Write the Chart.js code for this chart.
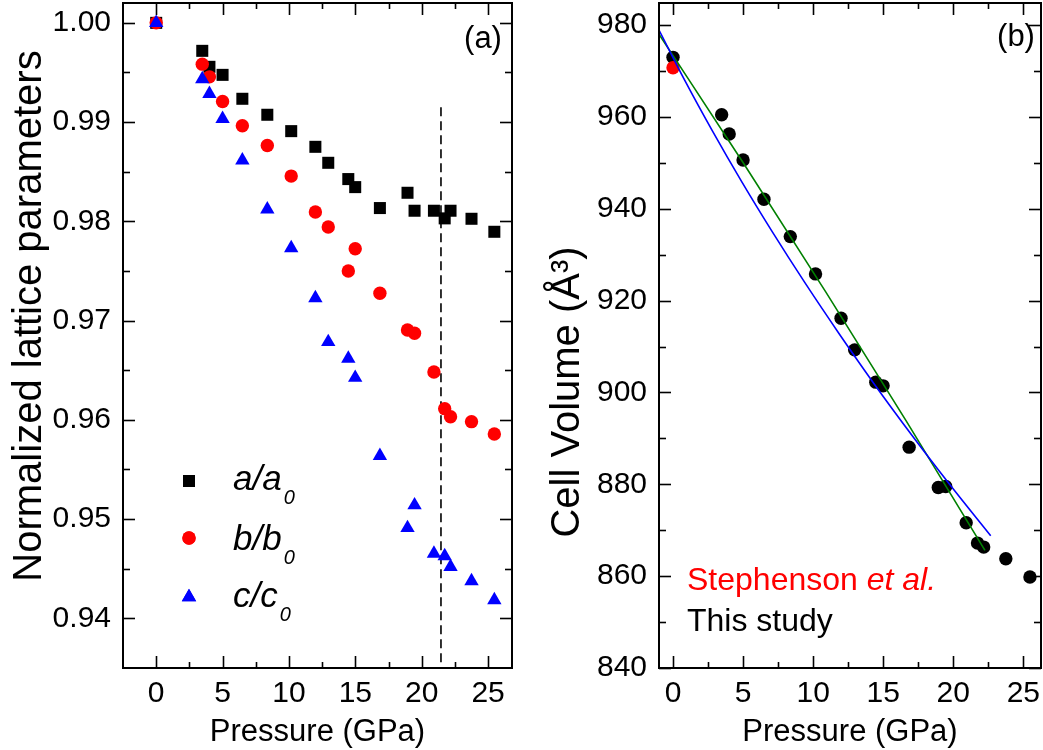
<!DOCTYPE html>
<html>
<head>
<meta charset="utf-8">
<script src="https://cdn.jsdelivr.net/npm/chart.js@4.4.0/dist/chart.umd.min.js"></script>
<style>
  html, body { margin: 0; padding: 0; background: #fff; }
  #wrap { position: relative; width: 1043px; height: 750px; overflow: hidden; }
  .panel { position: absolute; top: 0; height: 750px; }
  #pa { left: 0; width: 540px; }
  #pb { left: 540px; width: 503px; }
</style>
</head>
<body>
<div id="wrap">
  <div class="panel" id="pa"><canvas id="ca" width="540" height="750"></canvas></div>
  <div class="panel" id="pb"><canvas id="cb" width="503" height="750"></canvas></div>
</div>
<script>
// --- data ---
const pressure = [0, 3.47, 4.01, 5.0, 6.49, 8.37, 10.17, 11.99, 12.96, 14.47, 14.99, 16.85, 18.93, 19.46, 20.92, 21.73, 22.17, 23.75, 25.47];
const aRatio = [1.0000, 0.99718, 0.99557, 0.99476, 0.99235, 0.99074, 0.98909, 0.98751, 0.98590, 0.98426, 0.98345, 0.98134, 0.98288, 0.98107, 0.98107, 0.98030, 0.98107, 0.98026, 0.97895];
const bRatio = [1.0000, 0.99584, 0.99456, 0.99208, 0.98963, 0.98765, 0.98456, 0.98094, 0.97943, 0.97500, 0.97724, 0.97275, 0.96905, 0.96872, 0.96482, 0.96113, 0.96032, 0.95982, 0.95858];
const cRatio = [1.0000, 0.99433, 0.99285, 0.99033, 0.98614, 0.98121, 0.97731, 0.97228, 0.96785, 0.96617, 0.96425, 0.95637, 0.94911, 0.95140, 0.94653, 0.94627, 0.94519, 0.94375, 0.94184];
const volume = [972.97, 960.48, 956.28, 950.62, 942.07, 933.93, 925.81, 916.17, 909.27, 902.24, 901.44, 888.09, 879.30, 879.52, 871.62, 867.20, 866.33, 863.79, 859.80];

const stephensonP = [0];
const stephensonV = [970.7];

// fitted curves as drawn
const blueFitP = [-1.0, 0.85, 2.82, 4.9, 7.1, 9.41, 11.83, 14.37, 17.02, 19.79, 22.67];
const blueFitV = [978.9, 967.9, 956.9, 945.9, 934.9, 923.9, 912.9, 901.8, 890.8, 879.8, 868.8];
const greenFitP = [-1.0, 5.03, 10.92, 16.66, 22.26];
const greenFitV = [978.0, 949.9, 921.8, 893.7, 865.6];

// dashed marker in panel (a)
const dashP = [21.45, 21.45];
const dashY = [0.9915, 0.935];

// ticks
const xTicks = [0, 5, 10, 15, 20, 25];
const xMinor = [2.5, 7.5, 12.5, 17.5, 22.5];
const yTicksA = [0.94, 0.95, 0.96, 0.97, 0.98, 0.99, 1.00];
const yMinorA = [0.945, 0.955, 0.965, 0.975, 0.985, 0.995];
const yTicksB = [840, 860, 880, 900, 920, 940, 960, 980];
const yMinorB = [850, 870, 890, 910, 930, 950, 970];

const FONT = '"Liberation Sans", Arial, sans-serif';
const pts = (xs, ys) => xs.map((x, i) => ({ x: x, y: ys[i] }));

// frame + inward tick marks on all four sides
const frameTicks = {
  id: 'frameTicks',
  afterDatasetsDraw(chart, args, o) {
    const { ctx, chartArea: a, scales: { x, y } } = chart;
    ctx.save();
    ctx.strokeStyle = '#000';
    ctx.lineWidth = 1.6;
    const seg = (x1, y1, x2, y2) => { ctx.beginPath(); ctx.moveTo(x1, y1); ctx.lineTo(x2, y2); ctx.stroke(); };
    const doX = (vals, len) => vals.forEach(v => {
      const p = Math.round(x.getPixelForValue(v)) + 0.5;
      seg(p, a.bottom, p, a.bottom - len);
      seg(p, a.top, p, a.top + len);
    });
    const doY = (vals, len) => vals.forEach(v => {
      const p = Math.round(y.getPixelForValue(v)) + 0.5;
      seg(a.left, p, a.left + len, p);
      seg(a.right, p, a.right - len, p);
    });
    doX(o.xMajor, 12); doX(o.xMinor, 6);
    doY(o.yMajor, 12); doY(o.yMinor, 7);
    ctx.lineWidth = 2;
    ctx.strokeRect(a.left, a.top, a.right - a.left, a.bottom - a.top);
    ctx.restore();
  }
};

function vText(ctx, text, x, y, font) {
  ctx.save();
  ctx.translate(x, y);
  ctx.rotate(-Math.PI / 2);
  ctx.font = font;
  ctx.fillStyle = '#000';
  ctx.textAlign = 'center';
  ctx.textBaseline = 'middle';
  ctx.fillText(text, 0, 0);
  ctx.restore();
}

// texts of panel (a): y title, tag, legend
const annoA = {
  id: 'annoA',
  afterDraw(chart) {
    const ctx = chart.ctx;
    vText(ctx, 'Normalized lattice parameters', 30, 316, '40px ' + FONT);
    ctx.save();
    ctx.fillStyle = '#000';
    ctx.font = '31px ' + FONT;
    ctx.textAlign = 'center';
    ctx.textBaseline = 'middle';
    ctx.fillText('(a)', 483, 39);

    const items = [
      { style: 'rect', r: 8.5, color: '#000000', y: 481, main: 'a/a', base: 490 },
      { style: 'circle', r: 6.7, color: '#ff0000', y: 538, main: 'b/b', base: 550 },
      { style: 'triangle', r: 8.3, color: '#0000ff', y: 597, main: 'c/c', base: 607 }
    ];
    items.forEach(it => {
      ctx.fillStyle = it.color;
      Chart.helpers.drawPoint(ctx, { pointStyle: it.style, radius: it.r, rotation: 0, borderWidth: 0 }, 189, it.y);
      ctx.fill();
      ctx.fillStyle = '#000';
      ctx.textAlign = 'left';
      ctx.textBaseline = 'alphabetic';
      ctx.font = 'italic 35px ' + FONT;
      ctx.fillText(it.main, 233, it.base);
      const w = ctx.measureText(it.main).width;
      ctx.font = 'italic 20px ' + FONT;
      ctx.fillText('0', 233 + w + 2, it.base + 14);
    });
    ctx.restore();
  }
};

// texts of panel (b)
const annoB = {
  id: 'annoB',
  afterDraw(chart) {
    const ctx = chart.ctx;
    vText(ctx, 'Cell Volume (\u00C5\u00B3)', 28, 392, '40px ' + FONT);
    ctx.save();
    ctx.fillStyle = '#000';
    ctx.font = '31px ' + FONT;
    ctx.textAlign = 'center';
    ctx.textBaseline = 'middle';
    ctx.fillText('(b)', 476, 37);

    ctx.textAlign = 'left';
    ctx.textBaseline = 'alphabetic';
    ctx.fillStyle = '#ff0000';
    ctx.font = '32px ' + FONT;
    ctx.fillText('Stephenson ', 147, 590);
    const w = ctx.measureText('Stephenson ').width;
    ctx.font = 'italic 32px ' + FONT;
    ctx.fillText('et al.', 147 + w, 590);
    ctx.fillStyle = '#000';
    ctx.font = '32px ' + FONT;
    ctx.fillText('This study', 147, 631);
    ctx.restore();
  }
};

function xScale(min, max) {
  return {
    type: 'linear', position: 'bottom', min: min, max: max,
    grid: { display: false, drawTicks: false },
    border: { display: false },
    afterBuildTicks: s => { s.ticks = xTicks.map(v => ({ value: v })); },
    afterFit: s => { s.height = 82; s.paddingLeft = 0; s.paddingRight = 0; },
    ticks: { color: '#000', font: { family: FONT, size: 30 }, padding: 8, maxRotation: 0 },
    title: { display: true, text: 'Pressure (GPa)', color: '#000', font: { family: FONT, size: 31, lineHeight: 1.1 }, padding: 0 }
  };
}

function yScale(min, max, vals, width, fmt) {
  return {
    type: 'linear', min: min, max: max,
    grid: { display: false, drawTicks: false },
    border: { display: false },
    afterBuildTicks: s => { s.ticks = vals.map(v => ({ value: v })); },
    afterFit: s => { s.width = width; s.paddingTop = 0; s.paddingBottom = 0; },
    ticks: { color: '#000', font: { family: FONT, size: 30 }, padding: 12, callback: fmt }
  };
}

new Chart(document.getElementById('ca'), {
  type: 'scatter',
  data: {
    datasets: [
      { data: pts(pressure, cRatio), pointStyle: 'triangle', pointRadius: 8.3, pointBorderWidth: 0, backgroundColor: '#0000ff', borderColor: '#0000ff' },
      { data: pts(pressure, bRatio), pointStyle: 'circle', pointRadius: 6.7, pointBorderWidth: 0, backgroundColor: '#ff0000', borderColor: '#ff0000' },
      { data: pts(pressure, aRatio), pointStyle: 'rect', pointRadius: 8.5, pointBorderWidth: 0, backgroundColor: '#000000', borderColor: '#000000' },
      { data: pts(dashP, dashY), showLine: true, pointRadius: 0, borderColor: '#000', borderWidth: 1.6, borderDash: [9, 5] }
    ]
  },
  options: {
    responsive: false, animation: false,
    layout: { autoPadding: false, padding: { top: 3, right: 28, left: 0, bottom: 0 } },
    plugins: {
      legend: { display: false }, tooltip: { enabled: false },
      frameTicks: { xMajor: xTicks, xMinor: xMinor, yMajor: yTicksA, yMinor: yMinorA }
    },
    scales: {
      x: xScale(-2.5, 26.8),
      y: yScale(0.935, 1.002, yTicksA, 123, v => v.toFixed(2))
    }
  },
  plugins: [frameTicks, annoA]
});

new Chart(document.getElementById('cb'), {
  type: 'scatter',
  data: {
    datasets: [
      { data: pts(blueFitP, blueFitV), showLine: true, pointRadius: 0, borderColor: '#0000ff', borderWidth: 1.6, cubicInterpolationMode: 'monotone' },
      { data: pts(greenFitP, greenFitV), showLine: true, pointRadius: 0, borderColor: '#008000', borderWidth: 1.6, cubicInterpolationMode: 'monotone' },
      { data: pts(stephensonP, stephensonV), pointStyle: 'circle', pointRadius: 6.7, pointBorderWidth: 0, backgroundColor: '#ff0000' },
      { data: pts(pressure, volume), pointStyle: 'circle', pointRadius: 6.7, pointBorderWidth: 0, backgroundColor: '#000000' }
    ]
  },
  options: {
    responsive: false, animation: false,
    layout: { autoPadding: false, padding: { top: 3, right: 2, left: 0, bottom: 0 } },
    plugins: {
      legend: { display: false }, tooltip: { enabled: false },
      frameTicks: { xMajor: xTicks, xMinor: xMinor, yMajor: yTicksB, yMinor: yMinorB }
    },
    scales: {
      x: xScale(-1.0, 26.26),
      y: yScale(840, 984.8, yTicksB, 119, v => String(v))
    }
  },
  plugins: [frameTicks, annoB]
});
</script>
</body>
</html>
